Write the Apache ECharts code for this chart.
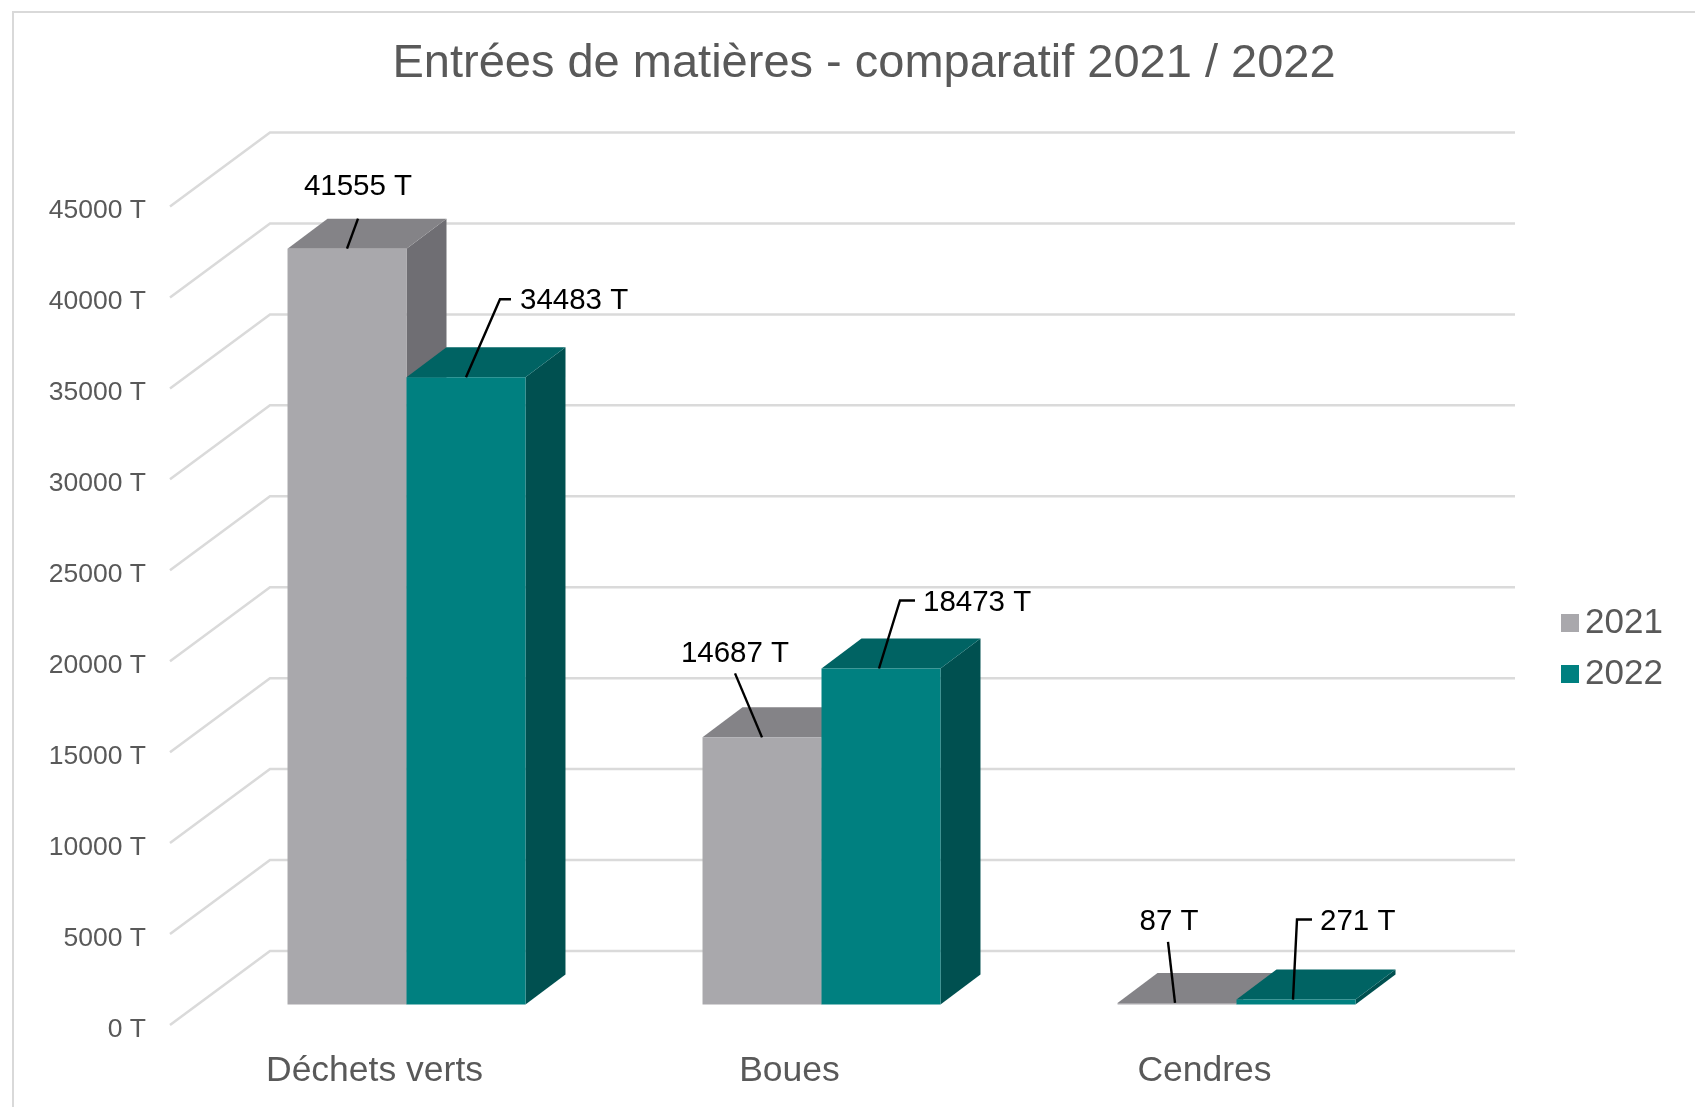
<!DOCTYPE html>
<html><head><meta charset="utf-8">
<style>html,body{margin:0;padding:0;background:#fff}#c{width:1695px;height:1107px}</style>
<script src="https://cdn.jsdelivr.net/npm/echarts@6/dist/echarts.min.js"></script>
</head><body><div id="c"></div>
<script>
const categories = ['Déchets verts', 'Boues', 'Cendres'];
const values2021 = [41555, 14687, 87];
const values2022 = [34483, 18473, 271];
const yTicks = [0, 5000, 10000, 15000, 20000, 25000, 30000, 35000, 40000, 45000];

const FONT = '"Liberation Sans", Arial, sans-serif';
const WALL = [100, -74];      // axis plane -> back wall
const FRONT = [29, -20.5];    // axis plane -> bar front face
const DEPTH = [40, -30];      // bar depth
const BAR_RATIO = 0.2867;     // bar width / category band
const COLORS = {
  y2021: { front: '#A9A8AC', top: '#848387', side: '#6F6E73' },
  y2022: { front: '#008080', top: '#006363', side: '#005050' }
};
// Leader lines and label placement relative to the bar-top anchor
const LABEL_LAYOUT_2021 = [
  { line: [[0, 0], [11, -30]], text: [11, -61.5], align: 'center' },
  { line: [[0, 0], [-27, -64]], text: [-27, -84], align: 'center' },
  { line: [[-2, 0], [-9, -61]], text: [-8, -81], align: 'center' }
];
const LABEL_LAYOUT_2022 = [
  { line: [[0, 0], [34, -78], [45, -78]], text: [54, -76.5], align: 'left' },
  { line: [[-2, 0], [19, -68], [34, -68]], text: [42, -65.5], align: 'left' },
  { line: [[-3, 0], [1, -80], [16, -80]], text: [24, -78], align: 'left' }
];

function barGeom(api, cat, val, sign) {
  const band = api.size([1, 0])[0];
  const w = band * BAR_RATIO;
  const cx = api.coord([cat, 0])[0] + FRONT[0];
  const y0 = api.coord([cat, 0])[1] + FRONT[1];
  const y1 = api.coord([cat, val])[1] + FRONT[1];
  return { l: sign < 0 ? cx - w : cx, r: sign < 0 ? cx : cx + w, y0, y1 };
}

function barRenderer(pal, sign) {
  return function (params, api) {
    const g = barGeom(api, api.value(0), api.value(1), sign);
    const [dx, dy] = DEPTH;
    return {
      type: 'group',
      children: [
        { type: 'polygon', shape: { points: [[g.r, g.y1], [g.r + dx, g.y1 + dy], [g.r + dx, g.y0 + dy], [g.r, g.y0]] }, style: { fill: pal.side } },
        { type: 'polygon', shape: { points: [[g.l, g.y1], [g.l + dx, g.y1 + dy], [g.r + dx, g.y1 + dy], [g.r, g.y1]] }, style: { fill: pal.top } },
        { type: 'rect', shape: { x: g.l, y: g.y1, width: g.r - g.l, height: Math.max(g.y0 - g.y1, 1) }, style: { fill: pal.front } }
      ]
    };
  };
}

function labelRenderer(layouts, sign) {
  return function (params, api) {
    const cat = api.value(0), val = api.value(1);
    const g = barGeom(api, cat, val, sign);
    const ax = (g.l + g.r) / 2, ay = g.y1;
    const L = layouts[cat];
    return {
      type: 'group',
      children: [
        { type: 'polyline', shape: { points: L.line.map(p => [ax + p[0], ay + p[1]]) }, style: { stroke: '#000', lineWidth: 2.4, fill: 'none' } },
        { type: 'text', style: { x: ax + L.text[0], y: ay + L.text[1], text: val + ' T', fill: '#000', font: '29.5px ' + FONT, align: L.align, verticalAlign: 'middle' } }
      ]
    };
  };
}

function wallRenderer(params, api) {
  const v = api.value(0);
  const p = api.coord([0, v]);
  const cs = params.coordSys;
  const x0 = cs.x, y0 = p[1];
  return {
    type: 'polyline',
    shape: { points: [[x0, y0], [x0 + WALL[0], y0 + WALL[1]], [cs.x + cs.width + WALL[0], y0 + WALL[1]]] },
    style: { stroke: '#DADADA', lineWidth: 2.5, fill: 'none' }
  };
}

const zip = arr => arr.map((v, i) => [i, v]);
const chart = echarts.init(document.getElementById('c'), null, { renderer: 'canvas' });
chart.setOption({
  animation: false,
  backgroundColor: '#fff',
  textStyle: { fontFamily: FONT },
  title: {
    text: 'Entrées de matières - comparatif 2021 / 2022',
    left: 859, top: 36, textAlign: 'center',
    textStyle: { fontSize: 47, fontWeight: 'normal', color: '#595959', fontFamily: FONT }
  },
  legend: {
    data: ['2021', '2022'], orient: 'vertical', left: 1556, top: 600.5,
    icon: 'rect', itemWidth: 18, itemHeight: 18, itemGap: 16,
    textStyle: { fontSize: 35, color: '#595959', fontFamily: FONT, padding: [0, 0, 0, 1] }
  },
  graphic: [{
    type: 'rect', silent: true, z: -10,
    shape: { x: 13, y: 12, width: 1800, height: 1200 },
    style: { fill: 'none', stroke: '#D9D9D9', lineWidth: 2 }
  }],
  grid: { left: 170, top: 206.5, width: 1245, bottom: 82 },
  xAxis: {
    type: 'category', data: categories,
    axisLine: { show: false }, axisTick: { show: false }, splitLine: { show: false },
    axisLabel: { fontSize: 35.5, color: '#595959', margin: 28, padding: [0, 6, 0, 0], fontFamily: FONT, interval: 0 }
  },
  yAxis: {
    type: 'value', min: 0, max: 45000, interval: 5000,
    axisLine: { show: false }, axisTick: { show: false }, splitLine: { show: false },
    axisLabel: { fontSize: 26.5, color: '#595959', margin: 24, verticalAlign: 'top', padding: [-9, 0, 0, 0], fontFamily: FONT, formatter: v => v + ' T' }
  },
  series: [
    { type: 'custom', name: 'grille', silent: true, z: 1, data: yTicks.map(v => [v]), encode: { y: 0 }, renderItem: wallRenderer },
    { type: 'custom', name: '2021', z: 2, itemStyle: { color: COLORS.y2021.front }, data: zip(values2021), encode: { x: 0, y: 1 }, renderItem: barRenderer(COLORS.y2021, -1) },
    { type: 'custom', name: '2022', z: 3, itemStyle: { color: COLORS.y2022.front }, data: zip(values2022), encode: { x: 0, y: 1 }, renderItem: barRenderer(COLORS.y2022, 1) },
    { type: 'custom', name: 'étiquettes 2021', silent: true, z: 4, data: zip(values2021), encode: { x: 0, y: 1 }, renderItem: labelRenderer(LABEL_LAYOUT_2021, -1) },
    { type: 'custom', name: 'étiquettes 2022', silent: true, z: 4, data: zip(values2022), encode: { x: 0, y: 1 }, renderItem: labelRenderer(LABEL_LAYOUT_2022, 1) }
  ]
});
</script></body></html>
